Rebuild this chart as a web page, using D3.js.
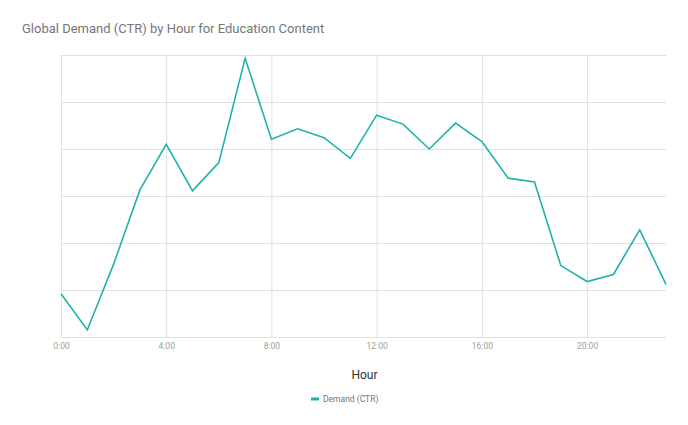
<!DOCTYPE html>
<html>
<head>
<meta charset="utf-8">
<script src="https://cdn.jsdelivr.net/npm/d3@7"></script>
<style>
  html, body { margin: 0; padding: 0; background: #fff; }
  svg { display: block; font-family: Roboto, "Liberation Sans", Arial, sans-serif; }
</style>
</head>
<body>
<svg id="chart" width="688" height="425"></svg>
<script>
const title = "Global Demand (CTR) by Hour for Education Content";
const seriesName = "Demand (CTR)";
const xTitle = "Hour";
const hours = d3.range(0, 24);
const demand = [0.92, 0.15, 1.55, 3.13, 4.1, 3.11, 3.71, 5.93, 4.21, 4.43, 4.24, 3.8, 4.72, 4.53, 4.0, 4.55, 4.16, 3.38, 3.3, 1.52, 1.18, 1.33, 2.28, 1.12];
const xTickValues = [0, 4, 8, 12, 16, 20];
const xTickLabels = ["0:00", "4:00", "8:00", "12:00", "16:00", "20:00"];
const yGridValues = [0, 1, 2, 3, 4, 5, 6];

const svg = d3.select("#chart");
const margin = {left: 61, right: 22, top: 55, bottom: 88};
const W = 688, H = 425;
const x = d3.scaleLinear().domain([0, 23]).range([margin.left, W - margin.right]);
const y = d3.scaleLinear().domain([0, 6]).range([H - margin.bottom, margin.top]);

// horizontal grid
svg.append("g")
  .attr("transform", `translate(${margin.left},0)`)
  .call(d3.axisLeft(y).tickValues(yGridValues).tickSize(-(W - margin.right - margin.left)).tickFormat(""))
  .call(g => g.select(".domain").remove())
  .call(g => g.selectAll("line").attr("stroke", "#e0e0e0").attr("stroke-width", 1));

// vertical grid + labels
svg.append("g")
  .attr("transform", `translate(0,${H - margin.bottom})`)
  .call(d3.axisBottom(x).tickValues(xTickValues).tickSize(-(H - margin.bottom - margin.top)).tickPadding(6)
    .tickFormat((d, i) => xTickLabels[i]))
  .call(g => g.select(".domain").remove())
  .call(g => g.selectAll("line").attr("stroke", "#e0e0e0").attr("stroke-width", 1))
  .call(g => g.selectAll("text").attr("fill", "#9e9e9e").attr("font-size", 8.5).attr("font-family", "Roboto, Arial, sans-serif"));

// line
const line = d3.line().x((d, i) => x(hours[i])).y(d => y(d));
svg.append("path")
  .datum(demand)
  .attr("fill", "none")
  .attr("stroke", "#20b2aa")
  .attr("stroke-width", 1.6)
  .attr("stroke-linejoin", "miter")
  .attr("d", line);

// title
svg.append("text")
  .attr("x", 22).attr("y", 33)
  .attr("fill", "#757575")
  .attr("font-size", 13)
  .text(title);

// x axis title
svg.append("text")
  .attr("x", (x(0) + x(23)) / 2 + 1).attr("y", 379)
  .attr("text-anchor", "middle")
  .attr("fill", "#333")
  .attr("font-size", 12)
  .text(xTitle);

// legend
const lg = svg.append("g").attr("transform", "translate(311,399)");
lg.append("line").attr("x1", 0).attr("x2", 8).attr("y1", 0).attr("y2", 0)
  .attr("stroke", "#20b2aa").attr("stroke-width", 3);
lg.append("text").attr("x", 12).attr("y", 3)
  .attr("fill", "#757575").attr("font-size", 8.5)
  .text(seriesName);
</script>
</body>
</html>
